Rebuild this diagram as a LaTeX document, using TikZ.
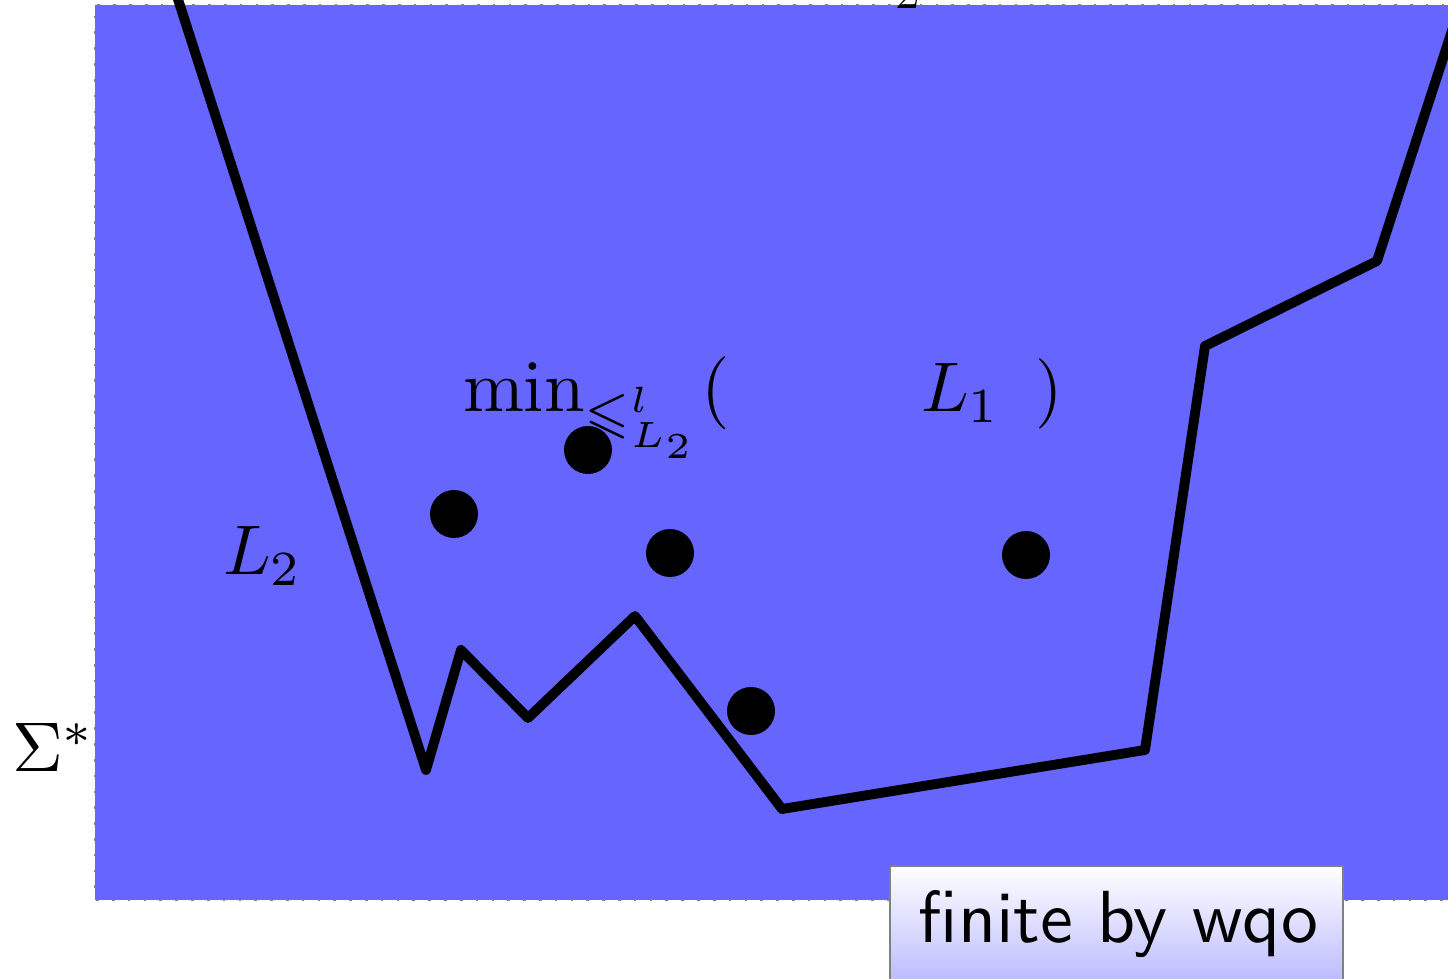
\documentclass[tikz,border=0pt]{standalone}
\usepackage{amssymb}
\begin{document}
\begin{tikzpicture}[x=0.02cm,y=-0.02cm,
  lbl/.style={inner sep=0pt,outer sep=0pt,scale=4,anchor=base west},
  curve/.style={line width=5.6pt,line join=round,line cap=round},
  pt/.style={circle,fill=black,inner sep=0pt,minimum size=0.96cm}]
\useasboundingbox (0,0) rectangle (1448,979);
\clip (0,0) rectangle (1448,979);
\fill[blue!60] (95,5) rectangle (1460,900);
\draw[gray,line width=1.5pt,dash pattern=on 1.5pt off 7.5pt] (1460,5) -- (95,5) -- (95,900) -- (1460,900);
\node[inner sep=0pt,anchor=base west,scale=2.8] (top2) at (895,9) {$2$};
\draw[curve] (175,-10) -- (426,770) -- (461,650) -- (528,718) -- (635,616) -- (782,809) -- (1145,750) -- (1205,346) -- (1377,261) -- (1462,0);
\node[pt] (d1) at (454,514) {};
\node[pt] (d2) at (588,450) {};
\node[pt] (d3) at (670,553) {};
\node[pt] (d4) at (1026,555) {};
\node[pt] (d5) at (751,711) {};
\node[lbl,scale=1.04] (minl) at (463,412) {$\min_{\leqslant^l_{L_2}}($};
\node[lbl] (l1) at (921,412) {$L_1$};
\node[lbl] (rp) at (1035,412) {$)$};
\node[lbl] (l2) at (223,575) {$L_2$};
\node[lbl] (sig) at (12,772) {$\Sigma^*$};
\shade[top color=white,bottom color=blue!33,draw=gray,line width=1.2pt] (890,866) rectangle (1343,1010);
\node[inner sep=0pt,anchor=base west,scale=4.2] (fin) at (917,942) {\sffamily finite by wqo};
\end{tikzpicture}
\end{document}
